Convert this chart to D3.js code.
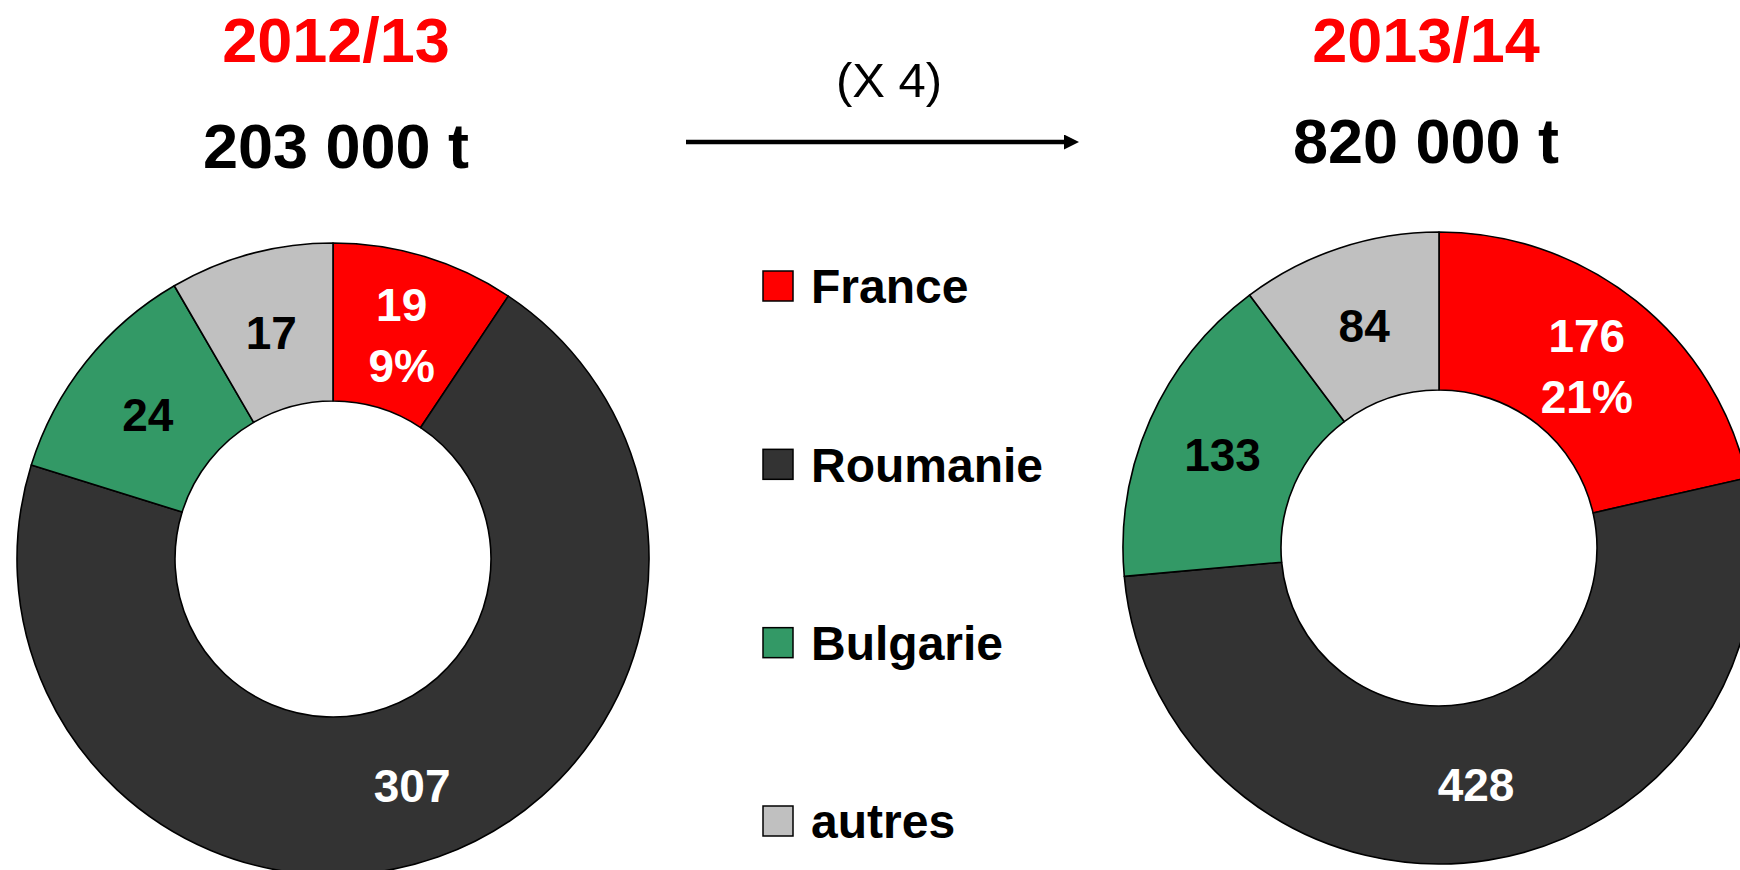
<!DOCTYPE html>
<html>
<head>
<meta charset="utf-8">
<script src="https://cdn.jsdelivr.net/npm/d3@7"></script>
<style>
  body { margin: 0; background: #fff; }
  svg text { font-family: "Liberation Sans", Arial, sans-serif; }
</style>
</head>
<body>
<svg id="chart_svg" width="1740" height="870"></svg>
<script>
// pays, dans l'ordre des parts (sens horaire depuis midi)
var pays = ["France", "Roumanie", "Bulgarie", "autres"];
var couleurs = ["#FF0000", "#333333", "#339966", "#C0C0C0"];

// 2012/13 : taille des parts (milliers de t)
var valeurs1213 = [19, 143, 24, 17];
// le chiffre imprimé sur la part Roumanie est 307 dans l'original
var etiquettes1213 = ["19", "307", "24", "17"];

// 2013/14
var valeurs1314 = [176, 428, 133, 84];
var etiquettes1314 = ["176", "428", "133", "84"];

var campagnes = ["2012/13", "2013/14"];
var totaux = ["203 000 t", "820 000 t"];
var facteur = "(X 4)";

var svg = d3.select("#chart_svg");

var R_OUT = 316, R_IN = 158;

var pie = d3.pie().sort(null).value(function (d) { return d; });
var arc = d3.arc().innerRadius(R_IN).outerRadius(R_OUT);

function drawDonut(cx, cy, valeurs, etiquettes) {
  var g = svg.append("g").attr("transform", "translate(" + cx + "," + cy + ")");
  var total = d3.sum(valeurs);
  var parts = pie(valeurs);

  g.selectAll("path").data(parts).enter().append("path")
    .attr("d", arc)
    .attr("fill", function (d, i) { return couleurs[i]; })
    .attr("stroke", "#000")
    .attr("stroke-width", 1.6)
    .attr("stroke-linejoin", "round");

  parts.forEach(function (d, i) {
    var c = arc.centroid(d);
    var coul = (i < 2) ? "#fff" : "#000";
    var lignes = [etiquettes[i]];
    // la part France porte aussi son pourcentage
    if (i === 0) lignes.push(Math.round(d.value / total * 100) + "%");
    var dy0 = -(lignes.length - 1) * 61 / 2;
    lignes.forEach(function (t, k) {
      g.append("text")
        .attr("x", c[0])
        .attr("y", c[1] + dy0 + k * 61)
        .attr("dy", "0.42em")
        .attr("text-anchor", "middle")
        .attr("font-size", 46)
        .attr("font-weight", "bold")
        .attr("fill", coul)
        .text(t);
    });
  });
}

drawDonut(333, 559, valeurs1213, etiquettes1213);
drawDonut(1439, 548, valeurs1314, etiquettes1314);

// titres
var titresX = [336, 1426];
var totauxY = [168, 163];
campagnes.forEach(function (c, i) {
  svg.append("text")
    .attr("x", titresX[i]).attr("y", 62)
    .attr("text-anchor", "middle")
    .attr("font-size", 63).attr("font-weight", "bold")
    .attr("fill", "#FF0000")
    .text(c);
  svg.append("text")
    .attr("x", titresX[i]).attr("y", totauxY[i])
    .attr("text-anchor", "middle")
    .attr("font-size", 63).attr("font-weight", "bold")
    .attr("fill", "#000")
    .text(totaux[i]);
});

// flèche (X 4)
svg.append("defs").append("marker")
  .attr("id", "fleche")
  .attr("viewBox", "0 0 10 10")
  .attr("refX", 0).attr("refY", 5)
  .attr("markerUnits", "userSpaceOnUse")
  .attr("markerWidth", 15).attr("markerHeight", 15)
  .attr("orient", "auto")
  .append("path").attr("d", "M0,0 L10,5 L0,10 Z").attr("fill", "#000");

svg.append("line")
  .attr("x1", 686).attr("y1", 142)
  .attr("x2", 1064).attr("y2", 142)
  .attr("stroke", "#000").attr("stroke-width", 4.5)
  .attr("marker-end", "url(#fleche)");

svg.append("text")
  .attr("x", 889).attr("y", 97)
  .attr("text-anchor", "middle")
  .attr("font-size", 49)
  .attr("fill", "#000")
  .text(facteur);

// légende
var legendeY = d3.scalePoint().domain(pays).range([286, 821]);
var leg = svg.append("g");
pays.forEach(function (p, i) {
  var y = legendeY(p);
  leg.append("rect")
    .attr("x", 763).attr("y", y - 15)
    .attr("width", 30).attr("height", 30)
    .attr("fill", couleurs[i])
    .attr("stroke", "#000").attr("stroke-width", 1.5);
  leg.append("text")
    .attr("x", 811).attr("y", y)
    .attr("dy", "0.36em")
    .attr("font-size", 48).attr("font-weight", "bold")
    .attr("fill", "#000")
    .text(p);
});
</script>
</body>
</html>
